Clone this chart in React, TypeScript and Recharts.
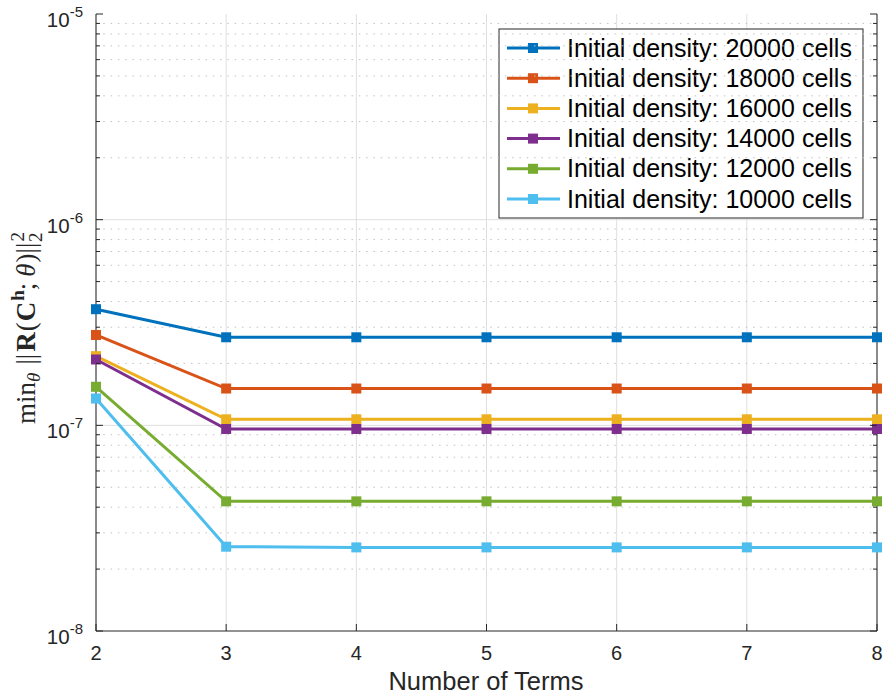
import { LineChart, Line, XAxis, YAxis, CartesianGrid, ReferenceLine, Customized } from 'recharts';

const TERMS = [2, 3, 4, 5, 6, 7, 8];

const D20000 = [3.67e-7, 2.68e-7, 2.68e-7, 2.68e-7, 2.68e-7, 2.68e-7, 2.68e-7];
const D18000 = [2.75e-7, 1.51e-7, 1.51e-7, 1.51e-7, 1.51e-7, 1.51e-7, 1.51e-7];
const D16000 = [2.17e-7, 1.07e-7, 1.07e-7, 1.07e-7, 1.07e-7, 1.07e-7, 1.07e-7];
const D14000 = [2.09e-7, 9.6e-8, 9.6e-8, 9.6e-8, 9.6e-8, 9.6e-8, 9.6e-8];
const D12000 = [1.54e-7, 4.27e-8, 4.27e-8, 4.27e-8, 4.27e-8, 4.27e-8, 4.27e-8];
const D10000 = [1.35e-7, 2.57e-8, 2.55e-8, 2.55e-8, 2.55e-8, 2.55e-8, 2.55e-8];

const X_TICKS = [2, 3, 4, 5, 6, 7, 8];
const MAJOR_TICKS = [1e-8, 1e-7, 1e-6, 1e-5];
const MINOR_MULTS = [2, 3, 4, 5, 6, 7, 8, 9];
const MINOR_TICKS = MAJOR_TICKS.slice(0, 3).flatMap((d) => MINOR_MULTS.map((m) => m * d));
const ALL_Y_TICKS = [...MAJOR_TICKS, ...MINOR_TICKS];

const SERIES = [
  { key: 'd20000', name: 'Initial density: 20000 cells', color: '#0072BD', values: D20000 },
  { key: 'd18000', name: 'Initial density: 18000 cells', color: '#D95319', values: D18000 },
  { key: 'd16000', name: 'Initial density: 16000 cells', color: '#EDB120', values: D16000 },
  { key: 'd14000', name: 'Initial density: 14000 cells', color: '#7E2F8E', values: D14000 },
  { key: 'd12000', name: 'Initial density: 12000 cells', color: '#77AC30', values: D12000 },
  { key: 'd10000', name: 'Initial density: 10000 cells', color: '#4DBEEE', values: D10000 },
];

const data = TERMS.map((t, i) => {
  const row: Record<string, number> = { terms: t };
  SERIES.forEach((s) => { row[s.key] = s.values[i]; });
  return row;
});

const AXIS = '#262626';
const SANS = "'Liberation Sans', Arial, Helvetica, sans-serif";
const SERIF = "'Liberation Serif', 'DejaVu Serif', 'Times New Roman', serif";

const isMajor = (v: number) => MAJOR_TICKS.some((m) => Math.abs(v - m) / m < 1e-6);

const LeftTick = (props: any) => {
  const { x, y, payload } = props;
  const v = payload.value;
  const major = isMajor(v);
  return (
    <g>
      <line x1={x} x2={x + (major ? 7 : 4)} y1={y} y2={y} stroke={AXIS} strokeWidth={1} />
      {major && (
        <text x={x - 13} y={y + 13} textAnchor="end" fontFamily={SANS} fontSize={20.5} fill={AXIS}>
          10<tspan dy={-10} fontSize={15}>{String(Math.round(Math.log10(v)))}</tspan>
        </text>
      )}
    </g>
  );
};

const RightTick = (props: any) => {
  const { x, y, payload } = props;
  const major = isMajor(payload.value);
  return <line x1={x} x2={x - (major ? 7 : 4)} y1={y} y2={y} stroke={AXIS} strokeWidth={1} />;
};

const BottomTick = (props: any) => {
  const { x, y, payload } = props;
  return (
    <g>
      <line x1={x} x2={x} y1={y} y2={y - 7} stroke={AXIS} strokeWidth={1} />
      <text x={x} y={y + 29} textAnchor="middle" fontFamily={SANS} fontSize={20} fill={AXIS}>
        {payload.value}
      </text>
    </g>
  );
};

const TopTick = (props: any) => {
  const { x, y } = props;
  return <line x1={x} x2={x} y1={y} y2={y + 7} stroke={AXIS} strokeWidth={1} />;
};

const squareDot = (color: string) => (props: any) => {
  const { cx, cy, index } = props;
  return <rect key={`dot-${index}`} x={cx - 5} y={cy - 5} width={10} height={10} fill={color} />;
};

const Extras = () => (
  <g>
    <text
      transform="translate(35,328) rotate(-90)"
      textAnchor="middle"
      fontFamily={SERIF}
      fontSize={27}
      fill={AXIS}
    >
      <tspan>min</tspan>
      <tspan fontStyle="italic" fontSize={19} dy={5}>θ</tspan>
      <tspan dy={-5} dx={8}>||</tspan>
      <tspan fontWeight="bold" dx={2}>R</tspan>
      <tspan dx={1}>(</tspan>
      <tspan fontWeight="bold" dx={1}>C</tspan>
      <tspan fontWeight="bold" fontSize={19} dy={-11} dx={1}>h</tspan>
      <tspan dy={11}>;</tspan>
      <tspan fontStyle="italic" dx={6}>θ</tspan>
      <tspan dx={1}>)||</tspan>
      <tspan fontSize={19} dy={-11} dx={1}>2</tspan>
      <tspan fontSize={19} dx={-10} dy={18}>2</tspan>
    </text>
    <text x={486} y={690} textAnchor="middle" fontFamily={SANS} fontSize={25.5} fill={AXIS}>
      Number of Terms
    </text>
    <g>
      <rect x={499} y={29} width={364} height={189} fill="#ffffff" stroke={AXIS} strokeWidth={1} />
      {SERIES.map((s, i) => {
        const cy = 48 + i * 30.2;
        return (
          <g key={s.key}>
            <line x1={507} x2={560} y1={cy} y2={cy} stroke={s.color} strokeWidth={3} />
            <rect x={528} y={cy - 5} width={10} height={10} fill={s.color} />
            <text x={567} y={cy + 8.5} fontFamily={SANS} fontSize={25} fill="#000000">
              {s.name}
            </text>
          </g>
        );
      })}
    </g>
  </g>
);

export default function App() {
  return (
    <div style={{ position: 'absolute', left: 0, top: 0, background: '#ffffff' }}>
      <LineChart width={883} height={694} data={data} margin={{ top: 14, right: 0, bottom: 0, left: 0 }}>
        <CartesianGrid horizontal={false} stroke="#dfdfdf" strokeWidth={1} yAxisId="l" />
        {MINOR_TICKS.map((v) => (
          <ReferenceLine key={`mn-${v}`} y={v} yAxisId="l" stroke="#c2c2c2" strokeWidth={1} strokeDasharray="1.5 5.8" />
        ))}
        {MAJOR_TICKS.slice(1, 3).map((v) => (
          <ReferenceLine key={`mj-${v}`} y={v} yAxisId="l" stroke="#dfdfdf" strokeWidth={1} />
        ))}
        <XAxis
          dataKey="terms"
          type="number"
          domain={[2, 8]}
          ticks={X_TICKS}
          height={63}
          tickSize={0}
          tickMargin={0}
          tickLine={false}
          axisLine={{ stroke: AXIS, strokeWidth: 1 }}
          tick={<BottomTick />}
          interval={0}
        />
        <XAxis
          xAxisId="top"
          dataKey="terms"
          type="number"
          domain={[2, 8]}
          ticks={X_TICKS}
          orientation="top"
          height={0}
          tickSize={0}
          tickMargin={0}
          tickLine={false}
          axisLine={{ stroke: AXIS, strokeWidth: 1 }}
          tick={<TopTick />}
          interval={0}
        />
        <YAxis
          yAxisId="l"
          type="number"
          scale="log"
          domain={[1e-8, 1e-5]}
          allowDataOverflow
          ticks={ALL_Y_TICKS}
          width={96}
          tickSize={0}
          tickMargin={0}
          tickLine={false}
          axisLine={{ stroke: AXIS, strokeWidth: 1 }}
          tick={<LeftTick />}
          interval={0}
        />
        <YAxis
          yAxisId="r"
          orientation="right"
          type="number"
          scale="log"
          domain={[1e-8, 1e-5]}
          allowDataOverflow
          ticks={ALL_Y_TICKS}
          width={6}
          tickSize={0}
          tickMargin={0}
          tickLine={false}
          axisLine={{ stroke: AXIS, strokeWidth: 1 }}
          tick={<RightTick />}
          interval={0}
        />
        {SERIES.map((s) => (
          <Line
            key={s.key}
            yAxisId="l"
            type="linear"
            dataKey={s.key}
            name={s.name}
            stroke={s.color}
            strokeWidth={3}
            dot={squareDot(s.color)}
            activeDot={false}
            isAnimationActive={false}
          />
        ))}
        <Customized component={Extras} />
      </LineChart>
    </div>
  );
}
